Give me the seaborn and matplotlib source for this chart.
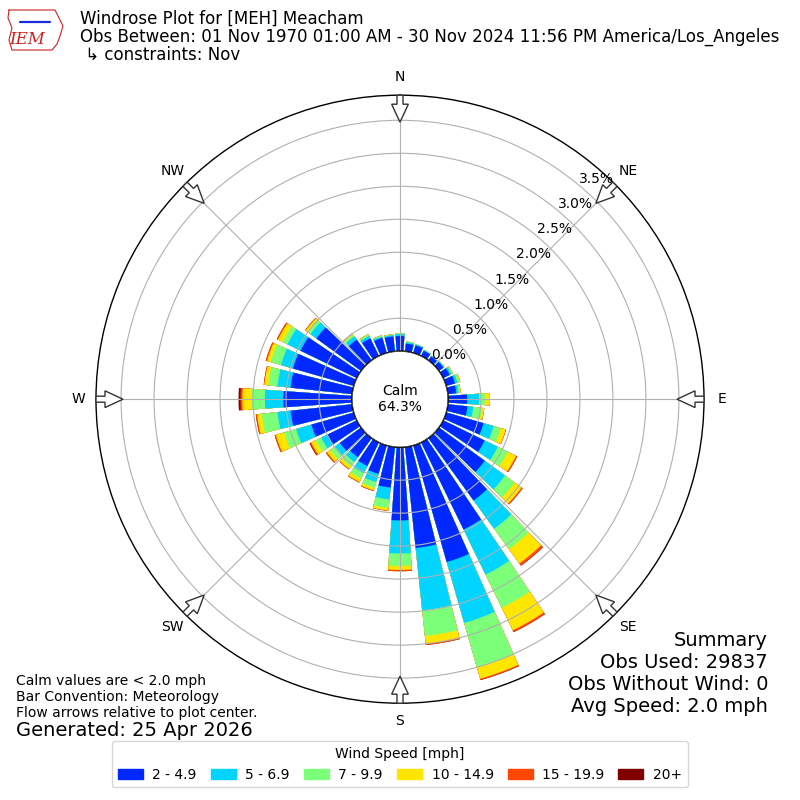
import numpy as np
import pandas as pd
import seaborn as sns
import matplotlib
matplotlib.use("Agg")
from matplotlib import pyplot as plt
from matplotlib.patches import Circle, FancyArrow, Patch

sns.set_style("white", rc={"axes.edgecolor": "black", "text.color": "black",
                           "xtick.color": "black", "ytick.color": "black"})
plt.rcParams["font.family"] = ["DejaVu Sans"]

# wind direction bins (degrees) and speed classes
directions = list(range(0, 360, 10))
speed_labels = ["2 - 4.9", "5 - 6.9", "7 - 9.9", "10 - 14.9", "15 - 19.9", "20+"]
speed_colors = ["#0028ff", "#00d4ff", "#7cff79", "#ffe600", "#ff4700", "#800000"]

# frequency (%) per direction for each speed class
spd_2_5 = [0.23, 0.12, 0.12, 0.09, 0.075, 0.085, 0.11, 0.14, 0.13, 0.29, 0.30, 0.59,
           0.70, 0.86, 1.17, 1.47, 1.84, 1.54, 1.11, 0.62, 0.45, 0.40, 0.36, 0.40,
           0.50, 0.67, 0.94, 1.04, 0.94, 0.96, 0.95, 0.84, 0.39, 0.30, 0.24, 0.23]
spd_5_7 = [0.03, 0.02, 0.015, 0.01, 0.01, 0.015, 0.03, 0.04, 0.035, 0.18, 0.09, 0.16,
           0.22, 0.38, 0.53, 0.76, 0.96, 0.95, 0.50, 0.18, 0.13, 0.12, 0.09, 0.09,
           0.10, 0.24, 0.20, 0.28, 0.20, 0.19, 0.22, 0.11, 0.06, 0.04, 0.02, 0.02]
spd_7_10 = [0.01, 0.01, 0.005, 0.005, 0.003, 0.005, 0.02, 0.03, 0.025, 0.09, 0.13, 0.11,
            0.17, 0.18, 0.38, 0.56, 0.70, 0.39, 0.19, 0.13, 0.09, 0.09, 0.08, 0.09,
            0.09, 0.19, 0.24, 0.20, 0.14, 0.16, 0.08, 0.05, 0.03, 0.02, 0.015, 0.01]
spd_10_15 = [0.0, 0.003, 0.0, 0.0, 0.0, 0.0, 0.005, 0.015, 0.01, 0.075, 0.035, 0.08,
             0.14, 0.13, 0.27, 0.38, 0.18, 0.12, 0.06, 0.04, 0.04, 0.06, 0.05, 0.06,
             0.08, 0.13, 0.07, 0.14, 0.06, 0.06, 0.08, 0.04, 0.02, 0.01, 0.005, 0.005]
spd_15_20 = [0.0, 0.0, 0.0, 0.0, 0.0, 0.0, 0.0, 0.0, 0.0, 0.002, 0.002, 0.005,
             0.02, 0.02, 0.04, 0.03, 0.02, 0.02, 0.02, 0.005, 0.01, 0.01, 0.01, 0.02,
             0.02, 0.02, 0.02, 0.03, 0.01, 0.02, 0.02, 0.01, 0.005, 0.0, 0.0, 0.0]
spd_20p = [0.0, 0.0, 0.0, 0.0, 0.0, 0.0, 0.0, 0.0, 0.0, 0.0, 0.0, 0.0,
           0.0, 0.0, 0.003, 0.003, 0.003, 0.0, 0.0, 0.0, 0.0, 0.0, 0.0, 0.0,
           0.01, 0.0, 0.0, 0.03, 0.0, 0.0, 0.0, 0.0, 0.0, 0.0, 0.0, 0.0]

calm_pct = 64.3
rings = [0.0, 0.5, 1.0, 1.5, 2.0, 2.5, 3.0, 3.5]
compass = ["N", "NE", "E", "SE", "S", "SW", "W", "NW"]

series = [spd_2_5, spd_5_7, spd_7_10, spd_10_15, spd_15_20, spd_20p]
df = pd.DataFrame({"theta": np.deg2rad(directions)})
cum = np.zeros(len(directions))
for lab, vals in zip(speed_labels, series):
    cum = cum + np.array(vals)
    df[lab] = cum

fig = plt.figure(figsize=(8, 8), dpi=100)
ax = fig.add_axes([0.12, 0.121, 0.76, 0.76], projection="polar")
ax.set_theta_zero_location("N")
ax.set_theta_direction(-1)

# stacked look: draw cumulative totals from the outermost class inwards
for lab, col in reversed(list(zip(speed_labels, speed_colors))):
    sns.barplot(data=df, x="theta", y=lab, native_scale=True, orient="x",
                color=col, saturation=1, errorbar=None, linewidth=0,
                width=0.8, ax=ax)

ax.set_xlabel("")
ax.set_ylabel("")
ax.set_thetalim(0, 2 * np.pi)
ax.set_ylim(0, 3.88)
ax.set_rorigin(-0.727)
ax.set_thetagrids(range(0, 360, 45), compass, fontsize=10)
ax.set_rgrids(rings, labels=[f"{r:.1f}%" for r in rings], angle=40, fontsize=10)
ax.tick_params(axis="x", pad=2.5)
ax.grid(True, color="#b0b0b0", linewidth=0.8)
ax.set_axisbelow(False)
ax.spines["polar"].set_color("black")
ax.spines["polar"].set_linewidth(1.0)

# calm circle
ax.add_patch(Circle((0.5, 0.5), 48 / 608, transform=ax.transAxes, fc="white",
                    ec="black", lw=1.2, zorder=4))
ax.text(0.5, 0.5, f"Calm\n{calm_pct:.1f}%", transform=ax.transAxes, ha="center",
        va="center", fontsize=10, zorder=6)

# flow arrows
for b in range(0, 360, 45):
    ux, uy = np.sin(np.deg2rad(b)), np.cos(np.deg2rad(b))
    ax.add_patch(FancyArrow(0.5 + 0.5 * ux, 0.5 + 0.5 * uy, -0.0444 * ux, -0.0444 * uy,
                            width=0.0099, head_width=0.0275, head_length=0.0296,
                            length_includes_head=True, transform=ax.transAxes,
                            fc="white", ec="#333333", lw=1, zorder=7, clip_on=False))

# rough logo: state outline, station glyph and IEM letters
outline_x = [9, 55, 57, 63, 60, 57, 52, 12, 9, 12, 8, 9]
outline_y = [10, 10, 14, 26, 36, 44, 50, 50, 40, 28, 18, 10]
fig.add_artist(plt.Line2D([x / 800 for x in outline_x], [1 - y / 800 for y in outline_y],
                          color="#d22020", lw=0.8))
fig.add_artist(plt.Line2D([20 / 800, 50 / 800], [1 - 22 / 800, 1 - 22 / 800],
                          color="#1a2adf", lw=1.6))
fig.text(0.034, 0.951, "IEM", color="#d22020", fontsize=12, style="italic",
         family="DejaVu Serif", ha="center", va="center")

# header
fig.text(0.1, 0.976, "Windrose Plot for [MEH] Meacham", fontsize=12, va="center")
fig.text(0.1, 0.954, "Obs Between: 01 Nov 1970 01:00 AM - 30 Nov 2024 11:56 PM America/Los_Angeles",
         fontsize=12, va="center")
fig.text(0.1, 0.931, " \u21b3 constraints: Nov", fontsize=12, va="center")

# summary
summary = ["Summary", "Obs Used: 29837", "Obs Without Wind: 0", "Avg Speed: 2.0 mph"]
for i, s in enumerate(summary):
    fig.text(0.96, 0.2 - i * 0.0275, s, fontsize=14, ha="right", va="center")

notes = ["Calm values are < 2.0 mph", "Bar Convention: Meteorology",
         "Flow arrows relative to plot center."]
for i, s in enumerate(notes):
    fig.text(0.02, 0.149 - i * 0.02, s, fontsize=10, ha="left", va="center")
fig.text(0.02, 0.0875, "Generated: 25 Apr 2026", fontsize=14, ha="left", va="center")

handles = [Patch(color=c) for c in speed_colors]
leg = fig.legend(handles, speed_labels, loc="lower center", bbox_to_anchor=(0.5, 0.007),
                 ncol=6, title="Wind Speed [mph]", fontsize=10, title_fontsize=10,
                 frameon=True, fancybox=True, edgecolor="#cccccc",
                 handlelength=1.8, handletextpad=0.7, columnspacing=1.0)

fig.savefig("out.png", dpi=100)
